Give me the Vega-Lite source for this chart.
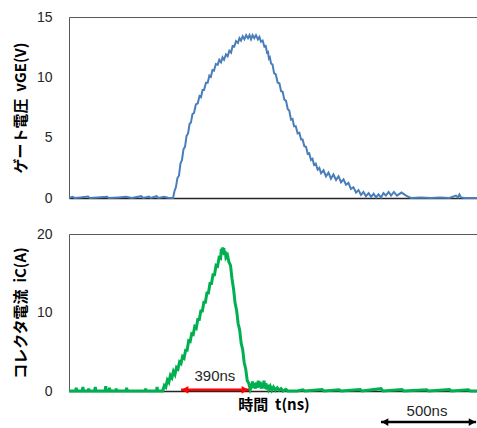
{
  "$schema": "https://vega.github.io/schema/vega-lite/v6.json",
  "padding": {"left": 12, "top": 9, "right": 0, "bottom": 0},
  "background": "white",
  "spacing": 36,
  "bounds": "flush",
  "resolve": {"scale": {"x": "independent", "y": "independent"}},
  "config": {
    "view": {"stroke": "#595959", "strokeWidth": 1},
    "axis": {
      "grid": false, "ticks": false, "tickSize": 0,
      "labelFont": "Liberation Sans", "labelFontSize": 14, "labelColor": "#262626",
      "titleFont": "Noto Sans CJK JP", "titleFontSize": 15, "titleFontWeight": "bold", "titleColor": "#000000"
    }
  },
  "datasets": {
    "gate": [
      {"t": 0, "v": 0.02}, {"t": 20, "v": 0.1}, {"t": 30, "v": 0}, {"t": 60, "v": 0.05}, {"t": 100, "v": 0.12}, {"t": 110, "v": 0},
      {"t": 150, "v": 0.05}, {"t": 200, "v": 0.1}, {"t": 210, "v": 0}, {"t": 260, "v": 0.05}, {"t": 300, "v": 0.1}, {"t": 330, "v": 0},
      {"t": 380, "v": 0.15}, {"t": 390, "v": 0}, {"t": 420, "v": 0.12}, {"t": 430, "v": 0}, {"t": 460, "v": 0.15}, {"t": 470, "v": 0},
      {"t": 500, "v": 0.1}, {"t": 520, "v": 0.02}, {"t": 547, "v": 0.0},
      {"t": 555, "v": 0.6}, {"t": 562, "v": 0.9}, {"t": 570, "v": 1.65}, {"t": 578, "v": 1.85}, {"t": 586, "v": 2.85}, {"t": 594, "v": 3.15},
      {"t": 602, "v": 4.05}, {"t": 610, "v": 4.25}, {"t": 618, "v": 5.15}, {"t": 626, "v": 5.35}, {"t": 634, "v": 6.15}, {"t": 641, "v": 6.25},
      {"t": 649, "v": 6.95}, {"t": 657, "v": 7.05}, {"t": 667, "v": 7.75}, {"t": 677, "v": 7.85}, {"t": 686, "v": 8.45}, {"t": 694, "v": 8.35},
      {"t": 702, "v": 8.95}, {"t": 710, "v": 8.95}, {"t": 720, "v": 9.55}, {"t": 729, "v": 9.55}, {"t": 738, "v": 10.15}, {"t": 746, "v": 10.05},
      {"t": 754, "v": 10.6}, {"t": 762, "v": 10.55}, {"t": 772, "v": 11.1}, {"t": 782, "v": 11.05}, {"t": 790, "v": 11.45}, {"t": 799, "v": 11.25},
      {"t": 807, "v": 11.65}, {"t": 815, "v": 11.45}, {"t": 825, "v": 11.9}, {"t": 834, "v": 11.75}, {"t": 843, "v": 12.2}, {"t": 852, "v": 12.05},
      {"t": 860, "v": 12.6}, {"t": 869, "v": 12.55}, {"t": 878, "v": 13.0}, {"t": 888, "v": 12.85}, {"t": 896, "v": 13.25}, {"t": 904, "v": 13.05},
      {"t": 913, "v": 13.4}, {"t": 922, "v": 13.15}, {"t": 931, "v": 13.5}, {"t": 941, "v": 13.25}, {"t": 949, "v": 13.5}, {"t": 957, "v": 13.15},
      {"t": 965, "v": 13.5}, {"t": 974, "v": 13.25}, {"t": 983, "v": 13.5}, {"t": 993, "v": 13.15}, {"t": 1001, "v": 13.35}, {"t": 1009, "v": 12.95},
      {"t": 1018, "v": 13.05}, {"t": 1027, "v": 12.55}, {"t": 1034, "v": 12.6}, {"t": 1041, "v": 12.05}, {"t": 1046, "v": 12.1}, {"t": 1051, "v": 11.55},
      {"t": 1056, "v": 11.65}, {"t": 1062, "v": 11.15}, {"t": 1070, "v": 11.05}, {"t": 1078, "v": 10.35}, {"t": 1087, "v": 10.25}, {"t": 1097, "v": 9.55},
      {"t": 1106, "v": 9.5}, {"t": 1115, "v": 8.85}, {"t": 1123, "v": 8.8}, {"t": 1132, "v": 8.15}, {"t": 1141, "v": 8.05}, {"t": 1150, "v": 7.35},
      {"t": 1158, "v": 7.25}, {"t": 1167, "v": 6.5}, {"t": 1175, "v": 6.55}, {"t": 1183, "v": 5.95}, {"t": 1192, "v": 5.95}, {"t": 1202, "v": 5.35},
      {"t": 1211, "v": 5.4}, {"t": 1220, "v": 4.85}, {"t": 1228, "v": 4.85}, {"t": 1237, "v": 4.3}, {"t": 1246, "v": 4.25}, {"t": 1255, "v": 3.65},
      {"t": 1263, "v": 3.7}, {"t": 1272, "v": 3.15}, {"t": 1280, "v": 3.25}, {"t": 1288, "v": 2.75}, {"t": 1297, "v": 2.85}, {"t": 1307, "v": 2.35},
      {"t": 1316, "v": 2.5}, {"t": 1325, "v": 2.05}, {"t": 1338, "v": 2.3}, {"t": 1351, "v": 1.8}, {"t": 1364, "v": 2.1}, {"t": 1377, "v": 1.6},
      {"t": 1390, "v": 1.95}, {"t": 1404, "v": 1.5}, {"t": 1417, "v": 1.8}, {"t": 1430, "v": 1.3}, {"t": 1443, "v": 1.55}, {"t": 1456, "v": 1.1},
      {"t": 1469, "v": 1.25}, {"t": 1482, "v": 0.75}, {"t": 1495, "v": 0.9}, {"t": 1509, "v": 0.45}, {"t": 1522, "v": 0.65}, {"t": 1535, "v": 0.25},
      {"t": 1548, "v": 0.5}, {"t": 1561, "v": 0.15}, {"t": 1575, "v": 0.4}, {"t": 1588, "v": 0.1}, {"t": 1601, "v": 0.35}, {"t": 1614, "v": 0.05},
      {"t": 1627, "v": 0.3}, {"t": 1640, "v": 0.05}, {"t": 1653, "v": 0.4}, {"t": 1666, "v": 0.2}, {"t": 1680, "v": 0.5}, {"t": 1693, "v": 0.2},
      {"t": 1708, "v": 0.5}, {"t": 1724, "v": 0.2}, {"t": 1748, "v": 0.45}, {"t": 1772, "v": 0.2}, {"t": 1785, "v": 0.1}, {"t": 1798, "v": 0.0},
      {"t": 1850, "v": 0.05}, {"t": 1900, "v": 0}, {"t": 1950, "v": 0.05}, {"t": 2000, "v": 0}, {"t": 2034, "v": 0.2}, {"t": 2045, "v": 0.05},
      {"t": 2052, "v": 0.3}, {"t": 2061, "v": 0.05}, {"t": 2080, "v": 0}, {"t": 2150, "v": 0}
    ],
    "coll": [
      {"t": 0, "v": 0}, {"t": 35, "v": 0}, {"t": 38, "v": 0.4}, {"t": 41, "v": 0}, {"t": 70, "v": 0}, {"t": 73, "v": 0.5}, {"t": 76, "v": 0},
      {"t": 100, "v": 0}, {"t": 103, "v": 0.3}, {"t": 106, "v": 0}, {"t": 135, "v": 0}, {"t": 138, "v": 0.5}, {"t": 141, "v": 0},
      {"t": 190, "v": 0}, {"t": 193, "v": 0.6}, {"t": 196, "v": 0}, {"t": 210, "v": 0}, {"t": 213, "v": 0.4}, {"t": 216, "v": 0},
      {"t": 245, "v": 0}, {"t": 248, "v": 0.3}, {"t": 251, "v": 0}, {"t": 300, "v": 0}, {"t": 303, "v": 0.4}, {"t": 306, "v": 0},
      {"t": 400, "v": 0}, {"t": 403, "v": 0.3}, {"t": 406, "v": 0}, {"t": 460, "v": 0}, {"t": 463, "v": 0.5}, {"t": 466, "v": 0},
      {"t": 493, "v": 0.0}, {"t": 501, "v": 0.7}, {"t": 509, "v": 0.5}, {"t": 517, "v": 1.4}, {"t": 525, "v": 1.1}, {"t": 533, "v": 2.0},
      {"t": 541, "v": 1.7}, {"t": 549, "v": 2.5}, {"t": 557, "v": 2.1}, {"t": 565, "v": 3.0}, {"t": 573, "v": 2.8}, {"t": 581, "v": 3.7},
      {"t": 589, "v": 3.5}, {"t": 597, "v": 4.4}, {"t": 605, "v": 4.2}, {"t": 613, "v": 5.2}, {"t": 621, "v": 5.2}, {"t": 629, "v": 6.4},
      {"t": 637, "v": 6.3}, {"t": 645, "v": 7.3}, {"t": 653, "v": 7.2}, {"t": 661, "v": 8.2}, {"t": 669, "v": 8.0}, {"t": 677, "v": 9.1},
      {"t": 685, "v": 9.1}, {"t": 693, "v": 10.2}, {"t": 701, "v": 10.2}, {"t": 709, "v": 11.3}, {"t": 717, "v": 11.3}, {"t": 725, "v": 12.5},
      {"t": 733, "v": 12.5}, {"t": 741, "v": 13.7}, {"t": 749, "v": 13.7}, {"t": 757, "v": 14.8}, {"t": 765, "v": 14.8}, {"t": 773, "v": 16.0},
      {"t": 781, "v": 15.9}, {"t": 789, "v": 17.0}, {"t": 797, "v": 16.9}, {"t": 801, "v": 18.1}, {"t": 805, "v": 17.4}, {"t": 808, "v": 18.3},
      {"t": 811, "v": 17.5}, {"t": 814, "v": 18.2}, {"t": 817, "v": 17.3}, {"t": 821, "v": 17.8}, {"t": 825, "v": 17.0}, {"t": 833, "v": 17.3},
      {"t": 841, "v": 16.4}, {"t": 849, "v": 16.0}, {"t": 857, "v": 14.3}, {"t": 865, "v": 13.0}, {"t": 873, "v": 11.2}, {"t": 881, "v": 10.3},
      {"t": 889, "v": 8.6}, {"t": 897, "v": 7.8}, {"t": 905, "v": 6.1}, {"t": 913, "v": 5.3}, {"t": 921, "v": 3.6}, {"t": 929, "v": 2.8},
      {"t": 937, "v": 1.3}, {"t": 945, "v": 1.0}, {"t": 953, "v": 0.2}, {"t": 960, "v": 0.6}, {"t": 965, "v": 1.2}, {"t": 970, "v": 0.4},
      {"t": 975, "v": 1.0}, {"t": 980, "v": 0.3}, {"t": 985, "v": 1.1}, {"t": 990, "v": 0.4}, {"t": 995, "v": 1.3}, {"t": 1000, "v": 0.5},
      {"t": 1005, "v": 1.2}, {"t": 1010, "v": 0.3}, {"t": 1015, "v": 1.0}, {"t": 1020, "v": 0.4}, {"t": 1025, "v": 1.3}, {"t": 1030, "v": 0.3},
      {"t": 1035, "v": 1.0}, {"t": 1040, "v": 0.2}, {"t": 1045, "v": 0.8}, {"t": 1050, "v": 0.2}, {"t": 1058, "v": 0.6}, {"t": 1066, "v": 0.1},
      {"t": 1075, "v": 0.5}, {"t": 1085, "v": 0.1}, {"t": 1095, "v": 0.4}, {"t": 1105, "v": 0.1}, {"t": 1115, "v": 0.3}, {"t": 1125, "v": 0},
      {"t": 1140, "v": 0.2}, {"t": 1150, "v": 0}, {"t": 1200, "v": 0}, {"t": 1230, "v": 0.15}, {"t": 1240, "v": 0}, {"t": 1330, "v": 0.2},
      {"t": 1340, "v": 0}, {"t": 1420, "v": 0.15}, {"t": 1430, "v": 0}, {"t": 1530, "v": 0.2}, {"t": 1540, "v": 0}, {"t": 1640, "v": 0.3},
      {"t": 1650, "v": 0}, {"t": 1750, "v": 0.2}, {"t": 1760, "v": 0}, {"t": 1880, "v": 0.15}, {"t": 1890, "v": 0}, {"t": 2000, "v": 0.2},
      {"t": 2010, "v": 0}, {"t": 2100, "v": 0.15}, {"t": 2110, "v": 0}, {"t": 2150, "v": 0}
    ],
    "arrows": [
      {"t1": 589, "t2": 946, "v": 0.15, "c": "red"},
      {"t1": 1640, "t2": 2140, "v": -3.95, "c": "black"}
    ],
    "heads": [
      {"t": 610, "v": 0.15, "dir": "L", "c": "red"},
      {"t": 925, "v": 0.15, "dir": "R", "c": "red"},
      {"t": 1661, "v": -3.95, "dir": "L", "c": "black"},
      {"t": 2119, "v": -3.95, "dir": "R", "c": "black"}
    ],
    "labels": [
      {"t": 767, "v": 1.9, "txt": "390ns"},
      {"t": 1882, "v": -2.6, "txt": "500ns"}
    ]
  },
  "vconcat": [
    {
      "width": 409,
      "height": 181,
      "data": {"name": "gate"},
      "mark": {"type": "line", "color": "#4a7ebb", "strokeWidth": 2},
      "encoding": {
        "x": {"field": "t", "type": "quantitative", "scale": {"domain": [0, 2150], "nice": false, "zero": false},
              "axis": {"labels": false, "title": null, "domainColor": "#262626", "domainWidth": 1.5}},
        "y": {"field": "v", "type": "quantitative", "scale": {"domain": [0, 15], "nice": false},
              "axis": {"values": [0, 5, 10, 15], "title": "ゲート電圧\u00a0\u00a0vGE(V)", "domain": false, "labelPadding": 17, "titlePadding": 8}}
      }
    },
    {
      "width": 409,
      "height": 157,
      "layer": [
        {
          "data": {"name": "coll"},
          "mark": {"type": "line", "color": "#00b050", "strokeWidth": 3},
          "encoding": {
            "x": {"field": "t", "type": "quantitative", "scale": {"domain": [0, 2150], "nice": false, "zero": false},
                  "axis": {"labels": false, "title": "時間\u00a0\u00a0t(ns)", "titlePadding": 6, "titleFontSize": 15, "domainColor": "#262626", "domainWidth": 1.5}},
            "y": {"field": "v", "type": "quantitative", "scale": {"domain": [0, 20], "nice": false},
                  "axis": {"values": [0, 5, 10, 15, 20], "title": "コレクタ電流\u00a0\u00a0iC(A)", "domain": false, "labelPadding": 17, "titlePadding": 8}}
          }
        },
        {
          "data": {"name": "arrows"},
          "mark": {"type": "rule", "strokeWidth": 2.5},
          "encoding": {
            "x": {"field": "t1", "type": "quantitative"},
            "x2": {"field": "t2"},
            "y": {"field": "v", "type": "quantitative"},
            "color": {"field": "c", "type": "nominal", "scale": {"domain": ["red", "black"], "range": ["#ff0000", "#000000"]}, "legend": null}
          }
        },
        {
          "data": {"name": "heads"},
          "mark": {"type": "point", "filled": true, "size": 60, "opacity": 1},
          "encoding": {
            "x": {"field": "t", "type": "quantitative"},
            "y": {"field": "v", "type": "quantitative"},
            "shape": {"field": "dir", "type": "nominal", "scale": {"domain": ["L", "R"], "range": ["triangle-left", "triangle-right"]}, "legend": null},
            "color": {"field": "c", "type": "nominal", "scale": {"domain": ["red", "black"], "range": ["#ff0000", "#000000"]}, "legend": null}
          }
        },
        {
          "data": {"name": "labels"},
          "mark": {"type": "text", "font": "Liberation Sans", "fontSize": 15, "color": "#262626", "baseline": "middle", "align": "center"},
          "encoding": {
            "x": {"field": "t", "type": "quantitative"},
            "y": {"field": "v", "type": "quantitative"},
            "text": {"field": "txt"}
          }
        }
      ]
    }
  ]
}
